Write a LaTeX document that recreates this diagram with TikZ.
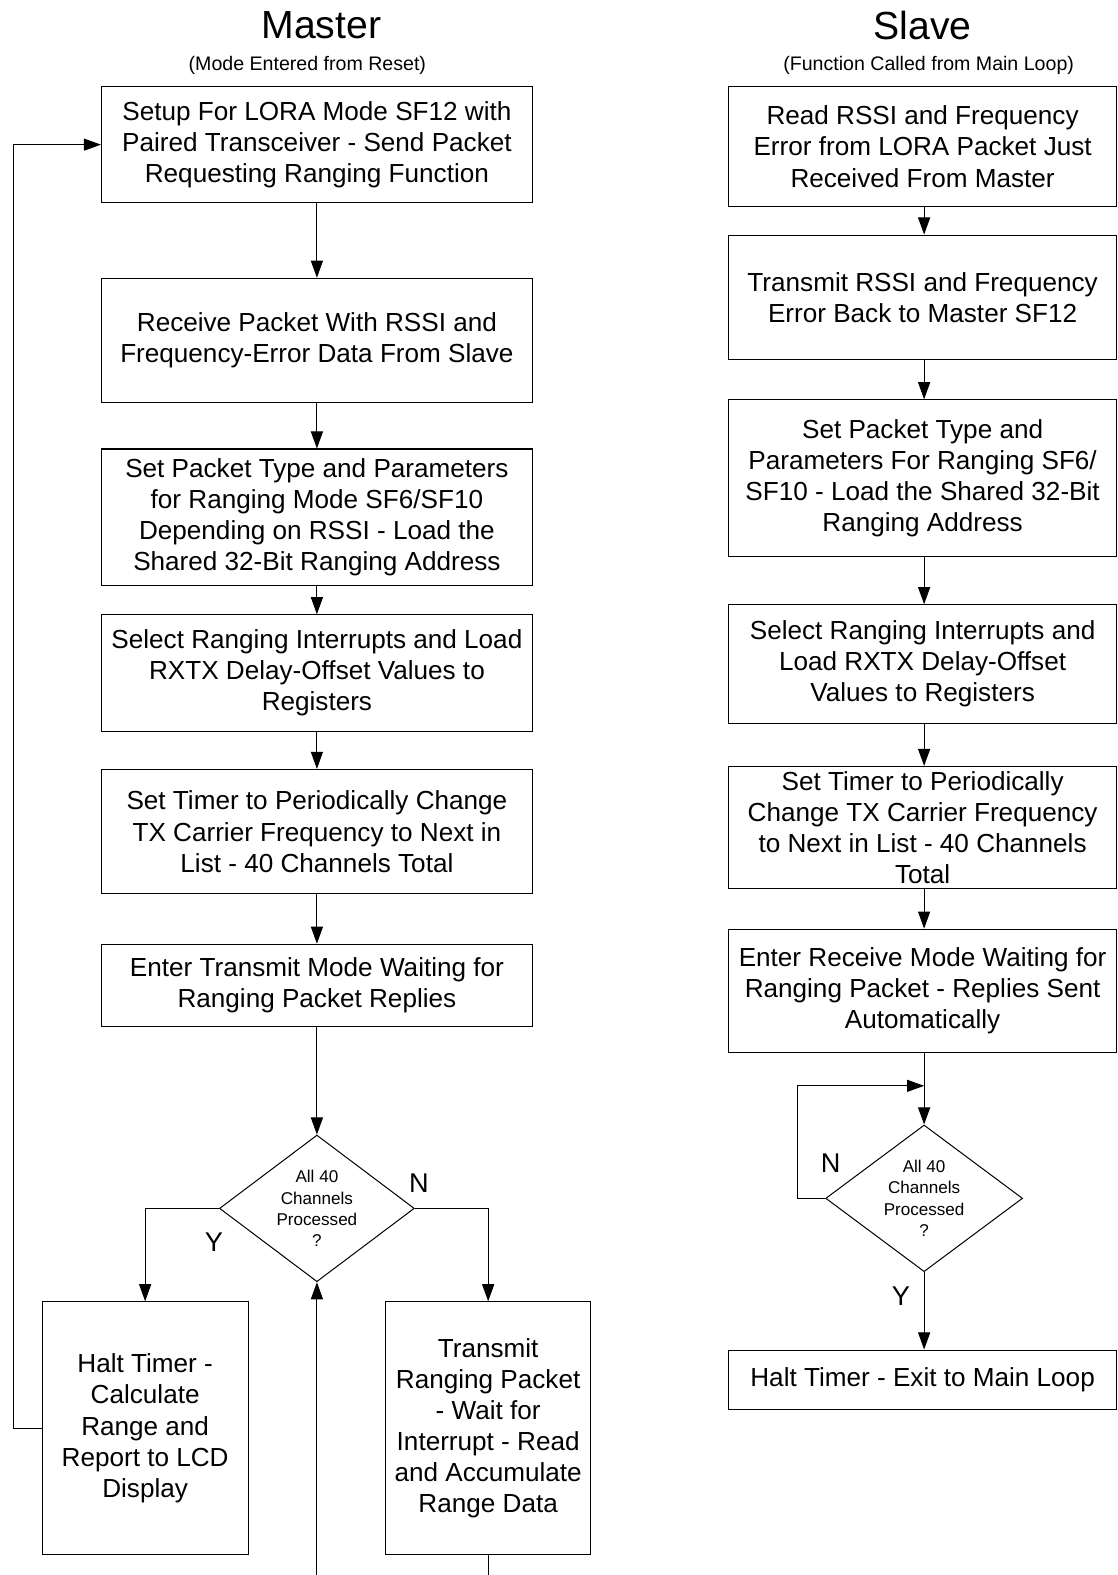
\documentclass[tikz,border=0pt]{standalone}
\usepackage{fontspec}
\setmainfont{Liberation Sans}
\usetikzlibrary{shapes.geometric,arrows.meta}
\begin{document}
\begin{tikzpicture}[x=1pt,y=-1pt,
  box/.style={draw,line width=1pt,rectangle,inner sep=0pt,align=center,
    font=\fontsize{26}{31}\selectfont},
  decision/.style={draw,line width=1pt,diamond,inner sep=0pt},
  dtext/.style={align=center,font=\fontsize{17}{21}\selectfont,inner sep=0pt},
  lbl/.style={font=\fontsize{27}{31}\selectfont,inner sep=0pt},
  ttl/.style={font=\fontsize{39}{44}\selectfont,inner sep=0pt},
  subttl/.style={font=\fontsize{19.5}{22}\selectfont,inner sep=0pt},
  arr/.style={line width=1pt,-{Triangle[length=17pt,width=12pt]}},
  ln/.style={line width=1pt}]
\useasboundingbox (0,0) rectangle (1113,1568);
\fill[white] (0,0) rectangle (1113,1568);

% titles
\node[ttl] (tm) at (320,25) {Master};
\node[ttl] (ts) at (918.5,25) {Slave};
\node[subttl] (stm) at (306,65) {(Mode Entered from Reset)};
\node[subttl] (sts) at (924.5,65) {(Function Called from Main Loop)};

% master column
\node[box,minimum width=429,minimum height=116] (m1) at (315.5,144)
  {Setup For LORA Mode SF12 with\\Paired Transceiver - Send Packet\\Requesting Ranging Function};
\node[box,minimum width=429,minimum height=124] (m2) at (315.5,339)
  {Receive Packet With RSSI and\\Frequency-Error Data From Slave};
\node[box,minimum width=429,minimum height=136] (m3) at (315.5,515)
  {Set Packet Type and Parameters\\for Ranging Mode SF6/SF10\\Depending on RSSI - Load the\\Shared 32-Bit Ranging Address};
\node[box,minimum width=429,minimum height=116] (m4) at (315.5,670)
  {Select Ranging Interrupts and Load\\RXTX Delay-Offset Values to\\Registers};
\node[box,minimum width=429,minimum height=124] (m5) at (315.5,828)
  {Set Timer to Periodically Change\\TX Carrier Frequency to Next in\\List - 40 Channels Total};
\node[box,minimum width=429,minimum height=82] (m6) at (315.5,981)
  {Enter Transmit Mode Waiting for\\Ranging Packet Replies};
\node[decision,minimum width=194,minimum height=146] (d1) at (315.5,1203) {};
\node[dtext] (d1t) at (d1) {All 40\\Channels\\Processed\\?};
\node[box,minimum width=205,minimum height=252] (halt) at (144.5,1422)
  {Halt Timer -\\Calculate\\Range and\\Report to LCD\\Display};
\node[box,minimum width=204,minimum height=252] (trans) at (486,1422)
  {Transmit\\Ranging Packet\\- Wait for\\Interrupt - Read\\and Accumulate\\Range Data};
\coordinate (b1) at (315.5,1568);
\coordinate (b2) at (486,1568);

\draw[arr] (m1.south) -- (m2.north);
\draw[arr] (m2.south) -- (m3.north);
\draw[arr] (m3.south) -- (m4.north);
\draw[arr] (m4.south) -- (m5.north);
\draw[arr] (m5.south) -- (m6.north);
\draw[arr] (m6.south) -- (d1.north);
\draw[arr] (d1.west) -| (halt.north);
\draw[arr] (d1.east) -| (trans.north);
\draw[arr] (b1) -- (d1.south);
\draw[ln] (trans.south) -- (b2);
\draw[arr] (halt.west) -- ++(-28,0) |- (m1.west);
\node[lbl] (ly1) at (213,1237) {Y};
\node[lbl] (ln1) at (417,1178) {N};

% slave column
\node[box,minimum width=387,minimum height=120] (s1) at (918.5,146)
  {Read RSSI and Frequency\\Error from LORA Packet Just\\Received From Master};
\node[box,minimum width=387,minimum height=124] (s2) at (918.5,296)
  {Transmit RSSI and Frequency\\Error Back to Master SF12};
\node[box,minimum width=387,minimum height=156] (s3) at (918.5,476)
  {Set Packet Type and\\Parameters For Ranging SF6/\\SF10 - Load the Shared 32-Bit\\Ranging Address};
\node[box,minimum width=387,minimum height=118] (s4) at (918.5,661)
  {Select Ranging Interrupts and\\Load RXTX Delay-Offset\\Values to Registers};
\node[box,minimum width=387,minimum height=122] (s5) at (918.5,824)
  {Set Timer to Periodically\\Change TX Carrier Frequency\\to Next in List - 40 Channels\\Total};
\node[box,minimum width=387,minimum height=123] (s6) at (918.5,986.5)
  {Enter Receive Mode Waiting for\\Ranging Packet - Replies Sent\\Automatically};
\node[decision,minimum width=196,minimum height=146] (d2) at (920,1193) {};
\node[dtext] (d2t) at (d2) {All 40\\Channels\\Processed\\?};
\node[box,minimum width=387,minimum height=59] (s7) at (918.5,1373.5)
  {Halt Timer - Exit to Main Loop};
\coordinate (sj) at (920,1081);

\draw[arr] (s1.south -| d2.north) -- (s2.north -| d2.north);
\draw[arr] (s2.south -| d2.north) -- (s3.north -| d2.north);
\draw[arr] (s3.south -| d2.north) -- (s4.north -| d2.north);
\draw[arr] (s4.south -| d2.north) -- (s5.north -| d2.north);
\draw[arr] (s5.south -| d2.north) -- (s6.north -| d2.north);
\draw[arr] (s6.south -| d2.north) -- (d2.north);
\draw[arr] (d2.west) -- ++(-28,0) |- (sj);
\draw[arr] (d2.south) -- (s7.north -| d2.south);
\node[lbl] (ln2) at (827,1158) {N};
\node[lbl] (ly2) at (897,1290) {Y};
\end{tikzpicture}
\end{document}
